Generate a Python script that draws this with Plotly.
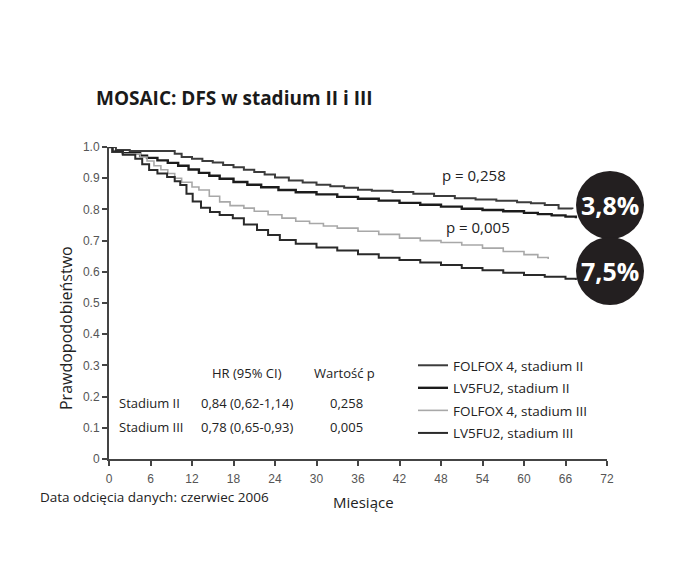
import plotly.graph_objects as go

# ---- data ----
folfox_ii_months = [0, 1, 3, 8.5, 9.5, 10.5, 12, 13.5, 15, 16.5, 18, 19.5, 21, 22.5, 24, 26, 28, 30, 32, 34, 36, 38, 41, 44, 47, 50, 53, 56, 59, 61, 63, 65, 67]
folfox_ii_surv = [1.0, 0.99, 0.987, 0.987, 0.978, 0.968, 0.962, 0.955, 0.95, 0.942, 0.935, 0.927, 0.92, 0.912, 0.902, 0.893, 0.886, 0.879, 0.874, 0.869, 0.863, 0.86, 0.856, 0.85, 0.843, 0.836, 0.832, 0.828, 0.823, 0.82, 0.814, 0.803, 0.801]

lv5fu2_ii_months = [0, 0.5, 2, 4.5, 5.5, 7, 8.5, 10, 11.5, 13, 14.5, 16, 18, 20, 22, 24.5, 27, 30, 33, 36, 39, 42, 45, 48, 51, 54, 57, 60, 62, 64, 66, 67.5]
lv5fu2_ii_surv = [1.0, 0.985, 0.98, 0.972, 0.965, 0.957, 0.949, 0.94, 0.928, 0.917, 0.908, 0.898, 0.888, 0.879, 0.871, 0.862, 0.855, 0.848, 0.84, 0.834, 0.828, 0.821, 0.815, 0.809, 0.802, 0.798, 0.794, 0.789, 0.785, 0.781, 0.777, 0.772]

folfox_iii_months = [0, 0.5, 2, 4.5, 5.5, 6.5, 7.5, 8.5, 9.5, 10.5, 12, 13, 14.5, 16, 17.5, 19.5, 21, 23, 25, 27, 29, 31, 33, 36, 39, 42, 45, 48, 51, 54, 57, 60, 62, 63.5]
folfox_iii_surv = [1.0, 0.985, 0.978, 0.968, 0.955, 0.94, 0.927, 0.915, 0.9, 0.887, 0.872, 0.862, 0.842, 0.824, 0.812, 0.804, 0.794, 0.783, 0.772, 0.762, 0.755, 0.747, 0.74, 0.73, 0.72, 0.708, 0.7, 0.694, 0.686, 0.676, 0.665, 0.655, 0.646, 0.641]

lv5fu2_iii_months = [0, 0.5, 2, 3.8, 4.8, 5.8, 7, 8.4, 9.5, 10.3, 11.2, 12.1, 13.3, 14.6, 16, 17.9, 19.5, 21.4, 23, 24.7, 27, 30, 33, 36, 39, 42, 45, 48, 51, 54, 57, 60, 63, 66, 67.5]
lv5fu2_iii_surv = [1.0, 0.985, 0.975, 0.962, 0.945, 0.926, 0.915, 0.904, 0.89, 0.878, 0.85, 0.825, 0.805, 0.792, 0.782, 0.772, 0.752, 0.734, 0.718, 0.702, 0.69, 0.678, 0.668, 0.656, 0.645, 0.638, 0.63, 0.622, 0.612, 0.605, 0.597, 0.59, 0.584, 0.578, 0.574]

series_names = ["FOLFOX 4, stadium II", "LV5FU2, stadium II", "FOLFOX 4, stadium III", "LV5FU2, stadium III"]
series_colors = ["#3c3c3c", "#1c1c1c", "#a8a8a8", "#2a2a2a"]

x_ticks = [0, 6, 12, 18, 24, 30, 36, 42, 48, 54, 60, 66, 72]
y_ticks = [0, 0.1, 0.2, 0.3, 0.4, 0.5, 0.6, 0.7, 0.8, 0.9, 1.0]
y_tick_labels = ["0", "0.1", "0.2", "0.3", "0.4", "0.5", "0.6", "0.7", "0.8", "0.9", "1.0"]

table_header = ["HR (95% CI)", "Wartość p"]
table_rows = ["Stadium II", "Stadium III"]
table_hr = ["0,84 (0,62-1,14)", "0,78 (0,65-0,93)"]
table_p = ["0,258", "0,005"]

p_labels = ["p = 0,258", "p = 0,005"]
diff_labels = ["3,8%", "7,5%"]

TEXT_FONT = "Open Sans"
TICK_FONT = "Liberation Sans"
TXT = "#222222"

W, H = 673, 568
ML, MR, MT, MB = 109, 66, 147, 109
PW, PH = W - ML - MR, H - MT - MB


def px_to_paper(px, py):
    return (px - ML) / PW, (H - MB - py) / PH


fig = go.Figure()
all_series = [
    (folfox_ii_months, folfox_ii_surv),
    (lv5fu2_ii_months, lv5fu2_ii_surv),
    (folfox_iii_months, folfox_iii_surv),
    (lv5fu2_iii_months, lv5fu2_iii_surv),
]
widths = [2, 2.4, 1.6, 2]
for i, (xs, ys) in enumerate(all_series):
    fig.add_trace(go.Scatter(
        x=xs, y=ys, mode="lines", name=series_names[i],
        line=dict(color=series_colors[i], width=widths[i], shape="hv"),
        legendgroup=f"g{i}", hoverinfo="skip",
    ))

annotations = []
# table
table_y_header = 0.276
row_y = [0.179, 0.103]
hr_x = 20.0
p_x = 34.4
annotations.append(dict(x=hr_x, y=table_y_header, text=table_header[0], xanchor="center"))
annotations.append(dict(x=34.0, y=table_y_header, text=table_header[1], xanchor="center"))
for r in range(2):
    annotations.append(dict(x=1.2, y=row_y[r], text=table_rows[r], xanchor="left"))
    annotations.append(dict(x=hr_x, y=row_y[r], text=table_hr[r], xanchor="center"))
    annotations.append(dict(x=p_x, y=row_y[r], text=table_p[r], xanchor="center"))
for a in annotations:
    a.update(xref="x", yref="y", showarrow=False, yanchor="middle",
             font=dict(family=TEXT_FONT, size=13, color=TXT))

# p values
annotations.append(dict(x=52.7, y=0.91, xref="x", yref="y", text=p_labels[0], showarrow=False,
                        font=dict(family=TEXT_FONT, size=15, color=TXT)))
annotations.append(dict(x=53.4, y=0.745, xref="x", yref="y", text=p_labels[1], showarrow=False,
                        font=dict(family=TEXT_FONT, size=15, color=TXT)))

# circles with differences (paper coords so they are not clipped by the plot area)
circle_px = [(610, 205), (610, 271)]
R = 34
shapes = []
for k, (cx, cy) in enumerate(circle_px):
    x0, y0 = px_to_paper(cx - R, cy + R)
    x1, y1 = px_to_paper(cx + R, cy - R)
    shapes.append(dict(type="circle", xref="paper", yref="paper",
                       x0=x0, x1=x1, y0=y0, y1=y1,
                       fillcolor="#231f20", line=dict(width=0), layer="above"))
    tx, ty = px_to_paper(cx, cy)
    annotations.append(dict(x=tx, y=ty, xref="paper", yref="paper",
                            text=f"<b>{diff_labels[k]}</b>", showarrow=False,
                            xanchor="center", yanchor="middle",
                            font=dict(family=TEXT_FONT, size=25, color="white")))

# footnote
fx, fy = px_to_paper(38, 497)
annotations.append(dict(x=fx, y=fy, xref="paper", yref="paper", text="Data odcięcia danych: czerwiec 2006",
                        showarrow=False, xanchor="left", yanchor="middle",
                        font=dict(family=TEXT_FONT, size=13.5, color=TXT)))
# x axis title
mx, my = px_to_paper(363, 502)
annotations.append(dict(x=mx, y=my, xref="paper", yref="paper", text="Miesiące",
                        showarrow=False, xanchor="center", yanchor="middle",
                        font=dict(family=TEXT_FONT, size=15, color=TXT)))
# y axis title
yx, yy = px_to_paper(66, 328)
annotations.append(dict(x=yx, y=yy, xref="paper", yref="paper", text="Prawdopodobieństwo",
                        showarrow=False, xanchor="center", yanchor="middle", textangle=-90,
                        font=dict(family=TEXT_FONT, size=16, color=TXT)))

lx, ly = px_to_paper(413, 350)

fig.update_layout(
    width=W, height=H,
    margin=dict(l=ML, r=MR, t=MT, b=MB, pad=0),
    paper_bgcolor="white", plot_bgcolor="white",
    title=dict(text="<b>MOSAIC: DFS w stadium II i III</b>", x=96 / W, xanchor="left",
               y=1 - 98 / H, yanchor="middle",
               font=dict(family=TEXT_FONT, size=19, color="#1a1a1a")),
    xaxis=dict(range=[0, 72], tickvals=x_ticks, ticks="outside", ticklen=5, tickwidth=2,
               tickcolor="#444", showline=True, linecolor="#444", linewidth=2,
               showgrid=False, zeroline=False, ticklabelstandoff=3,
               tickfont=dict(family=TICK_FONT, size=12, color="#555")),
    yaxis=dict(range=[0, 1.0], tickvals=y_ticks, ticktext=y_tick_labels, ticks="outside", ticklen=5,
               tickwidth=2, tickcolor="#444", showline=True, linecolor="#444", linewidth=2,
               showgrid=False, zeroline=False,
               tickfont=dict(family=TICK_FONT, size=12, color="#555")),
    showlegend=True,
    legend=dict(x=lx, y=ly, xanchor="left", yanchor="top", bgcolor="rgba(0,0,0,0)",
                font=dict(family=TEXT_FONT, size=13.5, color=TXT), tracegroupgap=2,
                itemwidth=30),
    shapes=shapes,
    annotations=annotations,
)

fig.write_html("out.html", config={"displayModeBar": False},
               post_script="document.body.style.margin='0px';")
